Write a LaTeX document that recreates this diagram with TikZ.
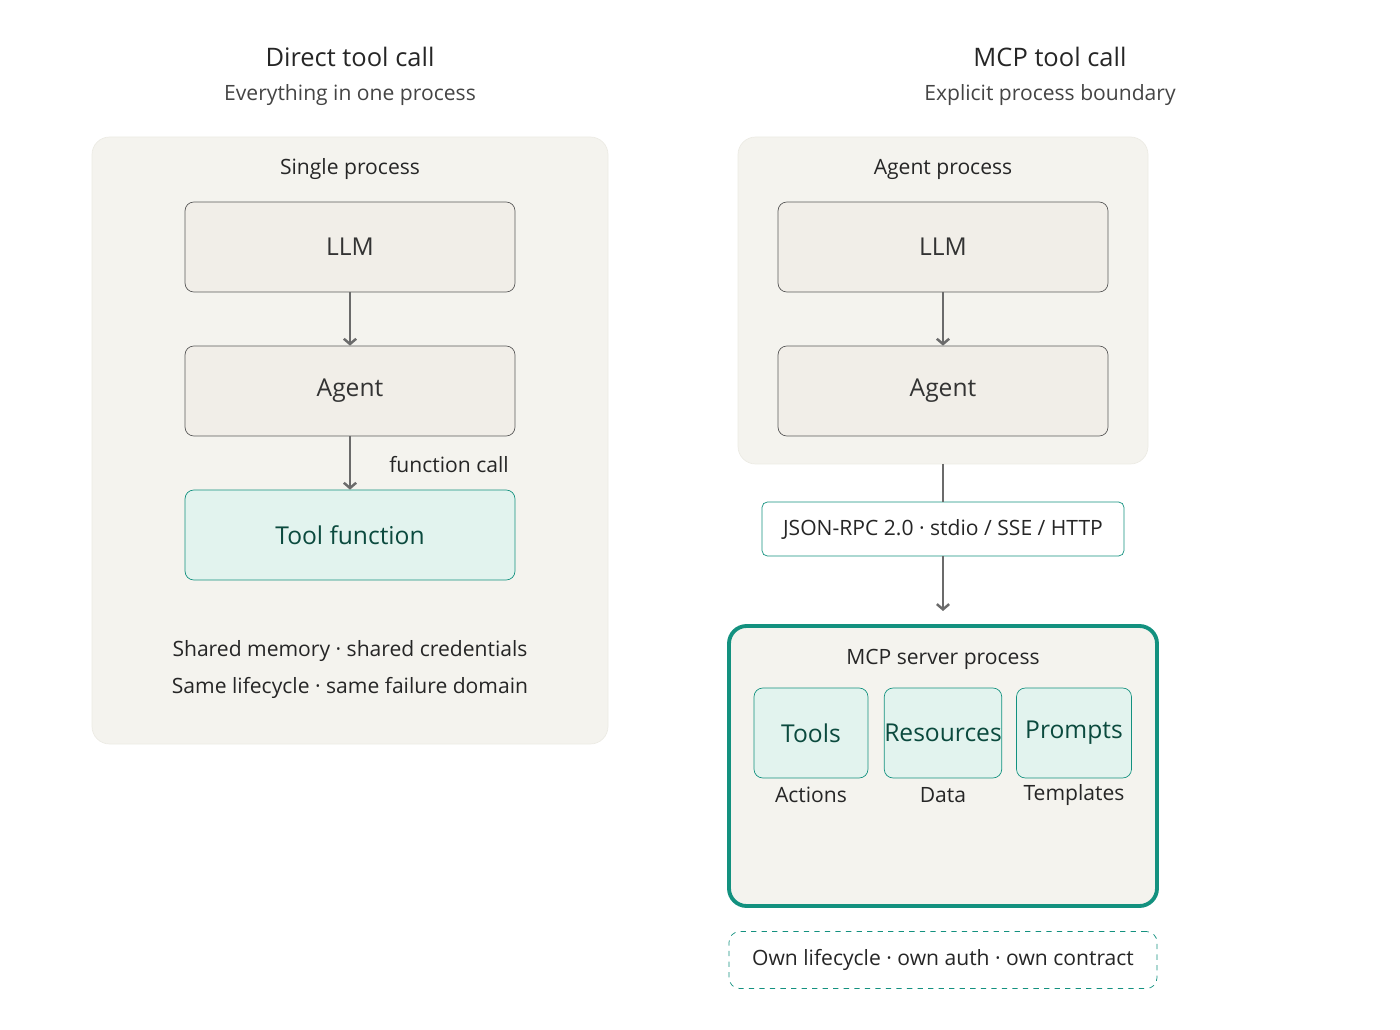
\documentclass[tikz,border=0pt]{standalone}
\usepackage{fontspec}
\setmainfont{Open Sans}
\usetikzlibrary{positioning,arrows.meta}
\definecolor{panelfill}{HTML}{F4F3EE}
\definecolor{panelline}{HTML}{ECEBE4}
\definecolor{boxfill}{HTML}{F1EEE8}
\definecolor{boxline}{HTML}{5A5A5A}
\definecolor{toolfill}{HTML}{E2F3EE}
\definecolor{toolline}{HTML}{13917F}
\definecolor{tooltext}{HTML}{0B4A3E}
\definecolor{arrowgray}{HTML}{6B6B6B}
\definecolor{subgray}{HTML}{444444}
\tikzset{
  panel/.style={draw=panelline, fill=panelfill, rounded corners=10pt},
  plainbox/.style={draw=boxline, fill=boxfill, rounded corners=5pt, font=\fontsize{14}{16}\selectfont, text=black!80},
  toolbox/.style={draw=toolline, fill=toolfill, rounded corners=5pt, font=\fontsize{14}{16}\selectfont, text=tooltext},
  flow/.style={draw=arrowgray, line width=1.4pt, -{Straight Barb[length=3pt,width=7pt]}},
  title/.style={font=\fontsize{14.5}{17}\selectfont, text=black!85},
  subtitle/.style={font=\fontsize{12}{14}\selectfont, text=subgray},
  note/.style={font=\fontsize{12}{14}\selectfont, text=black!85},
}
\begin{document}
\begin{tikzpicture}[x=0.02cm, y=-0.02cm]
\useasboundingbox (0,0) rectangle (1400,1030);

% left side
\node[title] (lefttitle) at (350,57) {Direct tool call};
\node[subtitle] (leftsub) at (350,95) {Everything in one process};
\draw[panel] (92,137) rectangle (608,744);
\node[note] (single) at (350,169) {Single process};
\node[plainbox, minimum width=6.6cm, minimum height=1.8cm] (llmA) at (350,247) {LLM};
\node[plainbox, minimum width=6.6cm, minimum height=1.8cm] (agentA) at (350,391) {Agent};
\node[toolbox, minimum width=6.6cm, minimum height=1.8cm] (toolfn) at (350,535) {Tool function};
\draw[flow] (llmA) -- (agentA);
\draw[flow] (agentA) -- (toolfn);
\node[note] (fcall) at (449,465) {function call};
\node[note] (shared) at (350,651) {Shared memory · shared credentials};
\node[note] (same) at (350,688) {Same lifecycle · same failure domain};

% right side
\node[title] (righttitle) at (1050,57) {MCP tool call};
\node[subtitle] (rightsub) at (1050,95) {Explicit process boundary};
\draw[panel] (738,137) rectangle (1148,464);
\coordinate (agentbottom) at (943,464);
\node[note] (agentproc) at (943,169) {Agent process};
\node[plainbox, minimum width=6.6cm, minimum height=1.8cm] (llmB) at (943,247) {LLM};
\node[plainbox, minimum width=6.6cm, minimum height=1.8cm] (agentB) at (943,391) {Agent};
\draw[flow] (llmB) -- (agentB);
\node[draw=toolline, fill=white, rounded corners=3pt, minimum width=7.24cm, minimum height=1.08cm, inner sep=0pt, note] (rpc) at (943,529) {JSON-RPC 2.0 · stdio / SSE / HTTP};
\draw[draw=arrowgray, line width=1.4pt] (agentbottom) -- (rpc.north);
\coordinate (servertop) at (943,611);
\draw[flow] (rpc.south) -- (servertop);
\draw[draw=toolline, line width=2.2pt, fill=panelfill, rounded corners=10pt] (729,626) rectangle (1157,906);
\node[note] (serverproc) at (943,659) {MCP server process};
\node[toolbox, minimum width=2.28cm, minimum height=1.8cm, inner sep=0pt] (tools) at (811,733) {Tools};
\node[toolbox, minimum width=2.3cm, minimum height=1.8cm, inner sep=0pt] (resources) at (943,733) {Resources};
\node[toolbox, minimum width=2.3cm, minimum height=1.8cm, inner sep=0pt] (prompts) at (1074,733) {Prompts};
\node[note] (actions) at (811,795) {Actions};
\node[note] (data) at (943,795) {Data};
\node[note] (templates) at (1074,795) {Templates};
\node[draw=toolline, dashed, rounded corners=6pt, minimum width=8.56cm, minimum height=1.14cm, inner sep=0pt, note] (own) at (943,960) {Own lifecycle · own auth · own contract};
\end{tikzpicture}
\end{document}
